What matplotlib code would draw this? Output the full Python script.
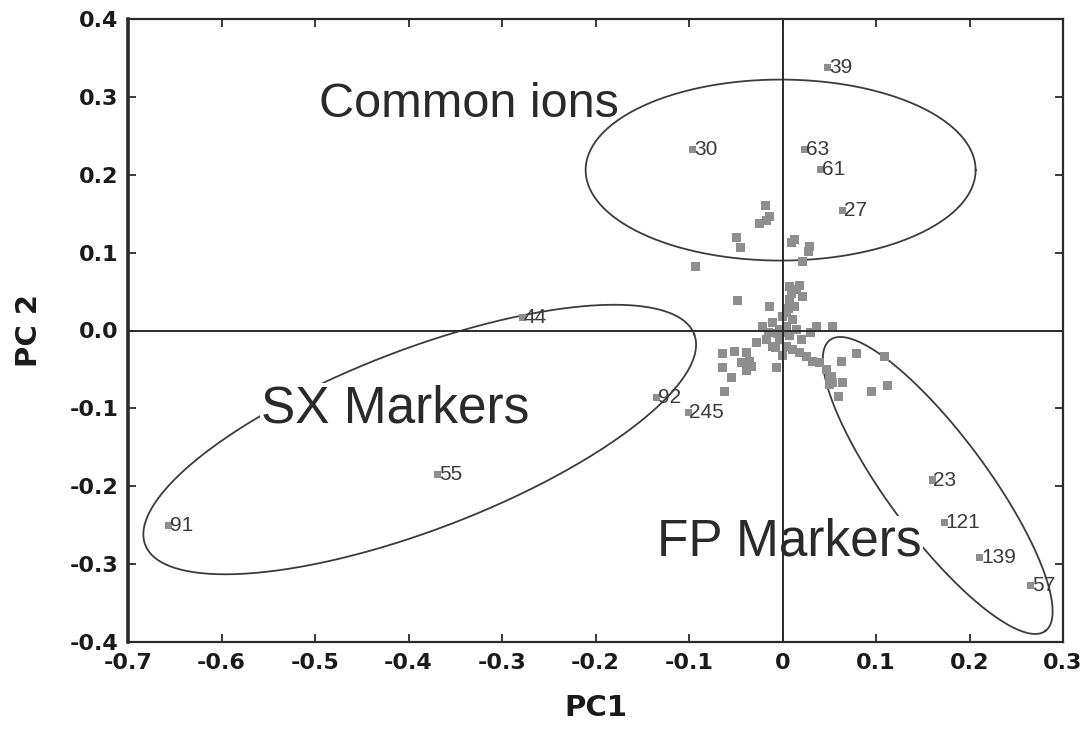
import numpy as np
import matplotlib
matplotlib.use("Agg")
import matplotlib.pyplot as plt

plt.rcParams['font.family'] = ['Liberation Sans', 'DejaVu Sans']

# Named ions (m/z) with their loadings
ion_labels = ["39", "30", "63", "61", "27", "44", "92", "245", "55", "91",
              "23", "121", "139", "57"]
ion_pc1 = [0.048, -0.096, 0.024, 0.041, 0.064, -0.278, -0.135, -0.101,
           -0.369, -0.657, 0.160, 0.173, 0.211, 0.265]
ion_pc2 = [0.338, 0.233, 0.232, 0.207, 0.154, 0.017, -0.086, -0.105,
           -0.185, -0.250, -0.192, -0.246, -0.292, -0.327]

# Remaining (unlabelled) ion loadings
other_pc1 = [-0.018, -0.014, -0.025, -0.017, -0.049, -0.045, 0.013, 0.010,
             0.029, 0.028, 0.021, -0.093, -0.048, -0.014, 0.007, 0.015,
             0.021, 0.007, 0.013, 0.004, 0.011, -0.021, -0.011, -0.003,
             0.004, 0.015, 0.036, 0.053, -0.028, -0.017, -0.011, -0.003,
             0.004, 0.011, 0.018, 0.026, 0.032, 0.040, 0.047, 0.050,
             0.053, -0.064, -0.051, -0.064, -0.055, -0.062, -0.039, -0.044,
             -0.035, -0.039, -0.033, -0.006, 0.063, 0.079, 0.109, 0.064,
             0.060, 0.095, 0.112, 0.050, 0.052, 0.000, 0.002, -0.005,
             0.008, 0.006, 0.010, 0.018, -0.008, 0.020, -0.015, 0.000, 0.030]
other_pc2 = [0.160, 0.147, 0.138, 0.141, 0.119, 0.106, 0.117, 0.113,
             0.108, 0.102, 0.088, 0.082, 0.039, 0.031, 0.057, 0.053,
             0.044, 0.040, 0.031, 0.023, 0.014, 0.005, 0.010, 0.001,
             0.005, 0.001, 0.005, 0.005, -0.015, -0.011, -0.020, -0.011,
             -0.020, -0.024, -0.028, -0.033, -0.040, -0.041, -0.050, -0.059,
             -0.067, -0.030, -0.027, -0.047, -0.060, -0.078, -0.028, -0.041,
             -0.040, -0.052, -0.046, -0.047, -0.040, -0.029, -0.033, -0.067,
             -0.085, -0.078, -0.071, -0.069, -0.059, 0.018, -0.002, -0.004,
             -0.007, 0.028, 0.048, 0.058, -0.022, -0.012, -0.002, -0.032, -0.002]

# Group annotations: name, text position, ellipse centre
group_names = ["Common ions", "SX Markers", "FP Markers"]
group_text_pc1 = [-0.335, -0.414, 0.007]
group_text_pc2 = [0.290, -0.101, -0.272]
group_center_pc1 = [-0.002, -0.388, 0.166]
group_center_pc2 = [0.206, -0.140, -0.199]

xticks = [-0.7, -0.6, -0.5, -0.4, -0.3, -0.2, -0.1, 0, 0.1, 0.2, 0.3]
xtick_labels = ["-0.7", "-0.6", "-0.5", "-0.4", "-0.3", "-0.2", "-0.1", "0",
                "0.1", "0.2", "0.3"]
yticks = [-0.4, -0.3, -0.2, -0.1, 0.0, 0.1, 0.2, 0.3, 0.4]
ytick_labels = ["-0.4", "-0.3", "-0.2", "-0.1", "0.0", "0.1", "0.2", "0.3", "0.4"]

W, H = 1089, 737
fig = plt.figure(figsize=(W / 100, H / 100), dpi=100)
ax = fig.add_axes([128 / W, 1 - 642 / H, (1063 - 128) / W, (642 - 19) / H])
ax.set_xlim(-0.7, 0.3)
ax.set_ylim(-0.4, 0.4)

ink = "#2b2b2b"
for side, sp in ax.spines.items():
    sp.set_color(ink)
    sp.set_linewidth(2.6 if side == "left" else 1.6)

bold_family = ["DejaVu Sans"]
ax.set_xticks(xticks)
ax.set_xticklabels(xtick_labels, family=bold_family, fontweight="bold")
ax.set_yticks(yticks)
ax.set_yticklabels(ytick_labels, family=bold_family, fontweight="bold")
ax.tick_params(direction="in", length=6, width=1.3, color=ink,
               top=True, right=True, labelsize=16, labelcolor="#1a1a1a")
ax.tick_params(axis="x", pad=8)
ax.tick_params(axis="y", pad=7)

ax.set_xlabel("PC1", fontsize=21, fontweight="bold", family=bold_family,
              color="#1a1a1a", labelpad=15)
ax.set_ylabel("PC 2", fontsize=21, fontweight="bold", family=bold_family,
              color="#1a1a1a", labelpad=19)

# zero reference lines
ax.axhline(0, color=ink, lw=1.4, zorder=5)
ax.axvline(0, color=ink, lw=1.4, zorder=5)

# loadings
ax.scatter(other_pc1, other_pc2, marker="s", s=42, color="#8e8e8e",
           edgecolors="none", zorder=3)
ax.scatter(ion_pc1, ion_pc2, marker="s", s=26, color="#8e8e8e",
           edgecolors="none", zorder=3)
for lab, x, y in zip(ion_labels, ion_pc1, ion_pc2):
    ax.annotate(lab, (x, y), xytext=(1.0, 0), textcoords="offset points",
                ha="left", va="center", fontsize=15, color="#3a3a3a", zorder=4)


def ring(cx, cy, a_px, b_px, deg):
    """Ellipse drawn with semi-axes given in screen pixels."""
    t = np.linspace(0, 2 * np.pi, 500)
    th = np.deg2rad(deg)
    X0, Y0 = ax.transData.transform((cx, cy))
    u, v = a_px * np.cos(t), b_px * np.sin(t)
    X = X0 + u * np.cos(th) - v * np.sin(th)
    Y = Y0 + u * np.sin(th) + v * np.cos(th)
    pts = ax.transData.inverted().transform(np.column_stack([X, Y]))
    ax.plot(pts[:, 0], pts[:, 1], color="#3c3c3c", lw=1.3, zorder=2)


ring(group_center_pc1[0], group_center_pc2[0], 195, 90.5, 0)
ring(group_center_pc1[1], group_center_pc2[1], 294, 90, 21)
ring(group_center_pc1[2], group_center_pc2[2], 181, 50, -53.5)

group_sizes = [35, 37, 37]
for i, name in enumerate(group_names):
    bbox = None if i == 0 else dict(facecolor="white", edgecolor="none", pad=1)
    ax.text(group_text_pc1[i], group_text_pc2[i], name, fontsize=group_sizes[i],
            color="#2a2a2a", ha="center", va="center", zorder=4, bbox=bbox)

fig.savefig("out.png", dpi=100)
